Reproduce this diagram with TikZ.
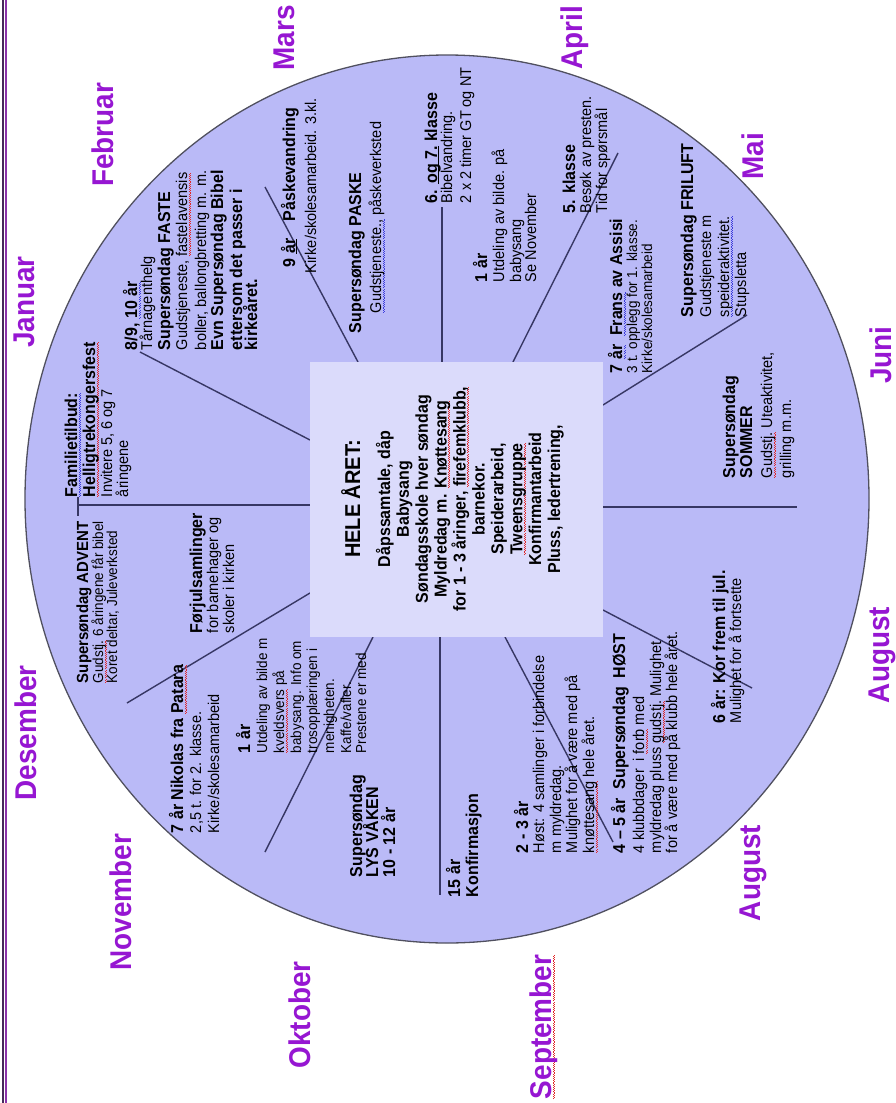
\documentclass[tikz,border=0pt]{standalone}
\usepackage{fontspec}
\setmainfont[FakeStretch=0.93]{Liberation Sans}
\definecolor{monthcol}{RGB}{150,22,210}
\definecolor{wheel}{RGB}{186,186,247}
\definecolor{boxfill}{RGB}{219,219,251}
\definecolor{spoke}{RGB}{55,55,100}
\definecolor{rim}{RGB}{80,80,95}
\definecolor{frameA}{RGB}{70,40,90}
\definecolor{frameB}{RGB}{140,50,170}
\definecolor{spellred}{RGB}{225,40,40}
\definecolor{spellblue}{RGB}{60,60,220}
\newsavebox\uwbox
\newcommand\uw[2]{\sbox\uwbox{#2}\rlap{\textcolor{#1}{\hbox to \wd\uwbox{\xleaders\hbox{\rule[-2.4pt]{1.1pt}{0.7pt}\rule[-3.3pt]{1.1pt}{0.7pt}}\hfil}}}\usebox\uwbox}
\newcommand\rw[1]{\uw{spellred}{#1}}
\newcommand\bw[1]{\uw{spellblue}{#1}}
\newcommand\sul[1]{\sbox\uwbox{#1}\rlap{\rule[-2.2pt]{\wd\uwbox}{0.9pt}}\usebox\uwbox}
\newcommand\txl[5]{\node[#1,anchor=base west] (#2) at (#3,#4) {#5};}
\newcommand\txc[5]{\node[#1,anchor=base] (#2) at (#3,#4) {#5};}
\begin{document}
\begin{tikzpicture}[x=1pt,y=-1pt,
  rot/.style={rotate=90,inner sep=0pt,outer sep=0pt,text=black},
  hd/.style={rot,font=\fontsize{17.2}{19}\selectfont\bfseries},
  hds/.style={rot,font=\fontsize{16.1}{18}\selectfont\bfseries},
  bd/.style={rot,font=\fontsize{15.6}{18}\selectfont},
  bds/.style={rot,font=\fontsize{14.5}{17}\selectfont},
  ctb/.style={rot,font=\fontsize{17.2}{20}\selectfont\bfseries},
  cth/.style={rot,font=\fontsize{21.5}{25}\selectfont\bfseries},
  mon/.style={rot,text=monthcol,font=\fontsize{30}{32}\selectfont\bfseries},
  spk/.style={draw=spoke,line width=1.4pt}]
\useasboundingbox (0,0) rectangle (896,1103);
\fill[white] (0,0) rectangle (896,1103);
% left frame
\coordinate (fa1) at (3,0); \coordinate (fa2) at (3,1103);
\coordinate (fb1) at (6,0); \coordinate (fb2) at (6,1103);
\draw[frameA,line width=1.2pt] (fa1) -- (fa2);
\draw[frameB,line width=1.6pt] (fb1) -- (fb2);
% wheel
\draw[fill=wheel,draw=rim,line width=1.3pt] (447,499) ellipse [x radius=422pt, y radius=444pt];
% spokes
\coordinate (bT) at (442,362);  \coordinate (oT) at (442,207);
\coordinate (bTL) at (358,362); \coordinate (oTL) at (265,187);
\coordinate (bTR) at (513,362); \coordinate (oTR) at (618,153);
\coordinate (bRU) at (603,405); \coordinate (oRU) at (747,315);
\coordinate (bR) at (603,507);  \coordinate (oR) at (797,507);
\coordinate (bRD) at (603,610); \coordinate (oRD) at (752,688);
\coordinate (bBR) at (505,637); \coordinate (oBR) at (613,842);
\coordinate (bB) at (440,637);  \coordinate (oB) at (440,895);
\coordinate (bBL) at (373,637); \coordinate (oBL) at (265,852);
\coordinate (bLD) at (310,593); \coordinate (oLD) at (127,703);
\coordinate (bL) at (310,505);  \coordinate (oL) at (78,505);
\coordinate (bLU) at (310,440); \coordinate (oLU) at (140,352);
\coordinate (tk1) at (78,497);  \coordinate (tk2) at (78,516);
\foreach \s in {T,TL,TR,RU,R,RD,BR,B,BL,LD,L,LU} \draw[spk] (b\s) -- (o\s);
\draw[spk] (tk1) -- (tk2);
% centre box
\node[fill=boxfill,minimum width=293pt,minimum height=275pt,inner sep=0pt,anchor=north west] (box) at (310,362) {};
\txc{cth}{hele}{360}{499}{HELE ÅRET:}
\txc{ctb}{c01}{390}{499}{Dåpssamtale, dåp}
\txc{ctb}{c02}{408.9}{499}{Babysang}
\txc{ctb}{c03}{427.8}{499}{Søndagsskole hver søndag}
\txc{ctb}{c04}{446.7}{499}{Myldredag m. \rw{Knøttesang}}
\txc{ctb}{c05}{465.6}{499}{for 1 - 3 åringer, \rw{firefemklubb,}}
\txc{ctb}{c06}{484.5}{499}{barnekor.}
\txc{ctb}{c07}{503.4}{499}{Speiderarbeid,}
\txc{ctb}{c08}{522.3}{499}{\rw{Tweensgruppe}}
\txc{ctb}{c09}{541.2}{499}{Konfirmantarbeid}
\txc{ctb}{c10}{560.1}{499}{Pluss, ledertrening,}
% months
\node[mon] (jan) at (24,302) {Januar};
\node[mon] (feb) at (103,135) {Februar};
\node[mon] (mar) at (284,38) {Mars};
\node[mon] (apr) at (575,38) {April};
\node[mon] (mai) at (753,156) {Mai};
\node[mon] (jun) at (881,355) {Juni};
\node[mon] (aug1) at (882,655) {August};
\node[mon] (aug2) at (753,873) {August};
\node[mon] (sep) at (544,1027) {\rw{September}};
\node[mon] (okt) at (300,1015) {Oktober};
\node[mon] (nov) at (121,902) {November};
\node[mon] (des) at (26,733) {Desember};
% A
\txl{hd}{a1}{77}{497}{\bw{Familietilbud:}}
\txl{hd}{a2}{95}{497}{\rw{Helligtrekongersfest}}
\txl{bd}{a3}{112}{497}{Invitere 5, 6 og 7}
\txl{bd}{a4}{128}{497}{åringene}
% B
\txl{hds}{b1}{88}{683}{Supersøndag ADVENT}
\txl{bds}{b2}{103}{683}{\rw{Gudstj.} 6 åringene får bibel}
\txl{bds}{b3}{117}{683}{Koret deltar, Juleverksted}
% C
\txl{hd}{cc1}{202}{633}{Førjulsamlinger}
\txl{bd}{cc2}{218}{633}{for barnehager og}
\txl{bd}{cc3}{234}{633}{skoler i kirken}
% D
\txl{hd}{d1}{183}{833}{7 år Nikolas fra \rw{Patara}}
\txl{bd}{d2}{201}{833}{2,5 t. for 2. klasse.}
\txl{bd}{d3}{219}{833}{Kirke/skolesamarbeid}
% E
\txl{hd}{e1}{250}{753}{1 år}
\txl{bds}{e2}{267}{753}{Utdeling av bilde m}
\txl{bds}{e3}{284}{753}{\rw{kveldsvers} på}
\txl{bds}{e4}{301}{753}{babysang. Info om}
\txl{bds}{e5}{317}{753}{trosopplæringen i}
\txl{bds}{e6}{334}{753}{menigheten.}
\txl{bds}{e7}{351}{753}{Kaffe/vafler.}
\txl{bds}{e8}{366}{753}{Prestene er med}
% F
\txl{hd}{f1}{362}{877}{Supersøndag}
\txl{hd}{f2}{378}{877}{LYS VÅKEN}
\txl{hd}{f3}{395}{877}{10 - 12 år}
% G
\txl{hd}{g1}{460}{897}{15 år}
\txl{hd}{g2}{478}{897}{Konfirmasjon}
% H
\txl{hd}{h1}{528}{853}{2 - 3 år}
\txl{bd}{h2}{544}{853}{Høst: 4 samlinger i forbindelse}
\txl{bd}{h3}{561}{853}{m myldredag.}
\txl{bd}{h4}{577}{853}{Mulighet for å være med på}
\txl{bd}{h5}{594}{853}{\rw{knøttesang} hele året.}
% I
\txl{hd}{i1}{625}{853}{4 – 5 år\enspace Supersøndag\enspace HØST}
\txl{bd}{i2}{644}{853}{4 klubbdager\enspace i \rw{forb} med}
\txl{bd}{i3}{661}{853}{myldredag pluss \rw{gudstj.} Mulighet}
\txl{bd}{i4}{677}{853}{for å være med på klubb hele året.}
% J
\txl{hd}{j1}{725}{723}{6 år: Kor frem til jul.}
\txl{bd}{j2}{741}{723}{Mulighet for å fortsette}
% K
\txl{hd}{k1}{735}{478}{Supersøndag}
\txl{hd}{k2}{752}{478}{SOMMER}
\txl{bd}{k3}{772}{478}{\rw{Gudstj.} Uteaktivitet,}
\txl{bd}{k4}{791}{478}{grilling m.m.}
% L
\txl{hd}{l1}{622}{373}{7 \bw{år}\enspace\bw{Frans} av Assisi}
\txl{bds}{l2}{637}{373}{3 t. opplegg for 1. klasse.}
\txl{bds}{l3}{652}{373}{Kirke/skolesamarbeid}
% M
\txl{hd}{m1}{693}{317}{Supersøndag FRILUFT}
\txl{bd}{m2}{711}{317}{Gudstjeneste m}
\txl{bd}{m3}{729}{317}{\bw{speideraktivitet.}}
\txl{bd}{m4}{746}{317}{Stupsletta}
% N
\txl{hd}{n1}{575}{213}{5. klasse}
\txl{bd}{n2}{591}{213}{Besøk av presten.}
\txl{bd}{n3}{607}{213}{Tid for spørsmål}
% O
\txl{hd}{o1}{487}{282}{1 år}
\txl{bd}{o2}{504}{282}{Utdeling av bilde. på}
\txl{bd}{o3}{521}{282}{babysang}
\txl{bd}{o4}{536}{282}{Se November}
% P
\txl{hd}{p1}{437}{203}{6. \sul{og 7.} klasse}
\txl{bd}{p2}{452}{203}{Bibelvandring.}
\txl{bd}{p3}{471}{203}{2 x 2 timer GT og NT}
% Q
\txl{hd}{q1}{361}{333}{Supersøndag PASKE}
\txl{bd}{q2}{381}{313}{\bw{Gudstjeneste.,} påskeverksted}
% R
\txl{hd}{r1}{295}{267}{9 \sul{år}\enspace\enspace Påskevandring}
\txl{bd}{r2}{316}{273}{Kirke/skolesamarbeid. 3.kl.}
% S
\txl{hd}{s1}{137}{350}{8/9, \bw{10 år}}
\txl{bd}{s2}{152}{350}{Tårnagenthelg}
\txl{hd}{s3}{170}{350}{Supersøndag FASTE}
\txl{bd}{s4}{187}{350}{Gudstjeneste, \rw{fastelavensis}}
\txl{bd}{s5}{206}{350}{boller, ballongbretting m. m.}
\txl{hd}{s6}{223}{350}{Evn Supersøndag Bibel}
\txl{hd}{s7}{242}{350}{ettersom det passer i}
\txl{hd}{s8}{257}{350}{kirkeåret.}
\end{tikzpicture}
\end{document}
